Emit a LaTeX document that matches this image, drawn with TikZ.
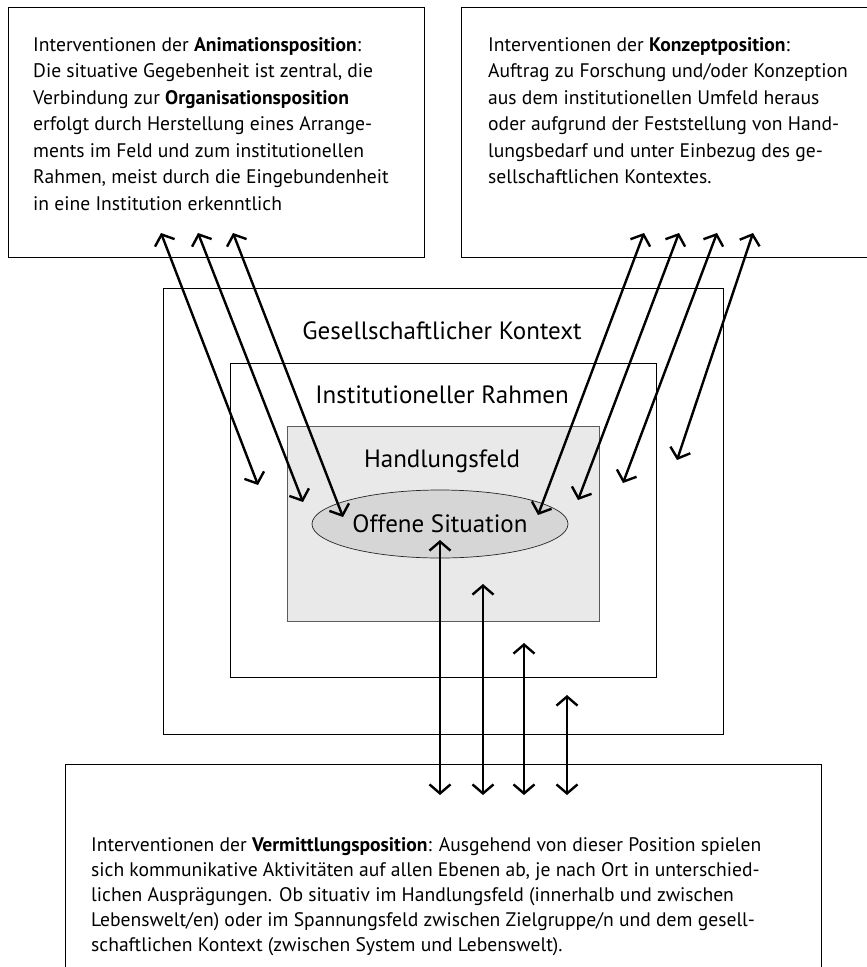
\documentclass[tikz,border=0pt]{standalone}
\usepackage{fontspec}
\setmainfont{PT Sans}
\usetikzlibrary{arrows.meta,shapes.geometric}
\definecolor{fieldgray}{HTML}{E9E9E9}
\definecolor{sitgray}{HTML}{D6D6D6}
\definecolor{edgegray}{HTML}{5A5A5A}
\begin{document}
\begin{tikzpicture}[x=1pt,y=-1pt,
  frame/.style={draw=black, line width=1pt, inner sep=0pt, anchor=north west},
  boxtext/.style={anchor=base west, inner sep=0pt},
  level/.style={font=\fontsize{25}{30}\selectfont, inner sep=0pt, anchor=base},
  link/.style={line width=2.4pt,
    {Straight Barb[length=9pt,width=21pt]}-{Straight Barb[length=9pt,width=21pt]}}
]
\useasboundingbox (0,0) rectangle (867,967);
\clip (0,0) rectangle (867,967);

% text boxes of the three positions
\node[frame, minimum width=416pt, minimum height=250pt] (anim) at (8,7) {};
\node[frame, minimum width=430pt, minimum height=250pt] (konz) at (461,7) {};
\node[frame, minimum width=756pt, minimum height=260pt] (verm) at (65,764) {};

% nested levels
\node[frame, minimum width=560pt, minimum height=446pt] (gesell) at (163,288) {};
\node[frame, minimum width=426pt, minimum height=314pt] (inst) at (230,363) {};
\node[frame, draw=edgegray, fill=fieldgray, minimum width=312pt, minimum height=195pt] (feld) at (287,426) {};
\node[ellipse, draw=black!85, line width=0.7pt, fill=sitgray, minimum width=256pt, minimum height=68pt,
      inner sep=0pt, font=\fontsize{25}{30}\selectfont] (sit) at (440,524) {Offene Situation};

\node[level] (gesell-t) at (442,339) {Gesellschaftlicher Kontext};
\node[level] (inst-t) at (442,403) {Institutioneller Rahmen};
\node[level] (feld-t) at (442,467) {Handlungsfeld};

% descriptions
\node[boxtext] (anim-t) at (33,51) {\parbox[t]{400pt}{\fontsize{19.6}{26.5}\selectfont\raggedright
Interventionen der \textbf{Animationsposition}:\\
Die situative Gegebenheit ist zentral, die\\
Verbindung zur \textbf{Organisationsposition}\\
erfolgt durch Herstellung eines Arrange-\\
ments im Feld und zum institutionellen\\
Rahmen, meist durch die Eingebundenheit\\
in eine Institution erkenntlich}};

\node[boxtext] (konz-t) at (488,51) {\parbox[t]{400pt}{\fontsize{19.6}{26.5}\selectfont\raggedright
Interventionen der \textbf{Konzeptposition}:\\
Auftrag zu Forschung und/oder Konzeption\\
aus dem institutionellen Umfeld heraus\\
oder aufgrund der Feststellung von Hand-\\
lungsbedarf und unter Einbezug des ge-\\
sellschaftlichen Kontextes.}};

\node[boxtext] (verm-t) at (91,851) {\parbox[t]{760pt}{\fontsize{19.6}{25}\selectfont\raggedright
Interventionen der \textbf{Vermittlungsposition}: Ausgehend von dieser Position spielen\\
sich kommunikative Aktivitäten auf allen Ebenen ab, je nach Ort in unterschied-\\
lichen Ausprägungen. Ob situativ im Handlungsfeld (innerhalb und zwischen\\
Lebenswelt/en) oder im Spannungsfeld zwischen Zielgruppe/n und dem gesell-\\
schaftlichen Kontext (zwischen System und Lebenswelt).}};

% arrow end points
\coordinate (a1t) at (161,233); \coordinate (a1b) at (258,485);
\coordinate (a2t) at (198,233); \coordinate (a2b) at (303,502);
\coordinate (a3t) at (233,233); \coordinate (a3b) at (343,517);
\coordinate (k1t) at (644,233); \coordinate (k1b) at (538,515);
\coordinate (k2t) at (679,233); \coordinate (k2b) at (578,500);
\coordinate (k3t) at (717,233); \coordinate (k3b) at (623,483);
\coordinate (k4t) at (753,233); \coordinate (k4b) at (677,460);
\coordinate (v1t) at (440,540); \coordinate (v1b) at (440,795);
\coordinate (v2t) at (483,584); \coordinate (v2b) at (483,795);
\coordinate (v3t) at (524,643); \coordinate (v3b) at (524,795);
\coordinate (v4t) at (567,695); \coordinate (v4b) at (567,795);

% animation position
\draw[link] (a1t) -- (a1b);
\draw[link] (a2t) -- (a2b);
\draw[link] (a3t) -- (a3b);
% concept position
\draw[link] (k1t) -- (k1b);
\draw[link] (k2t) -- (k2b);
\draw[link] (k3t) -- (k3b);
\draw[link] (k4t) -- (k4b);
% mediation position
\draw[link] (v1t) -- (v1b);
\draw[link] (v2t) -- (v2b);
\draw[link] (v3t) -- (v3b);
\draw[link] (v4t) -- (v4b);
\end{tikzpicture}
\end{document}
